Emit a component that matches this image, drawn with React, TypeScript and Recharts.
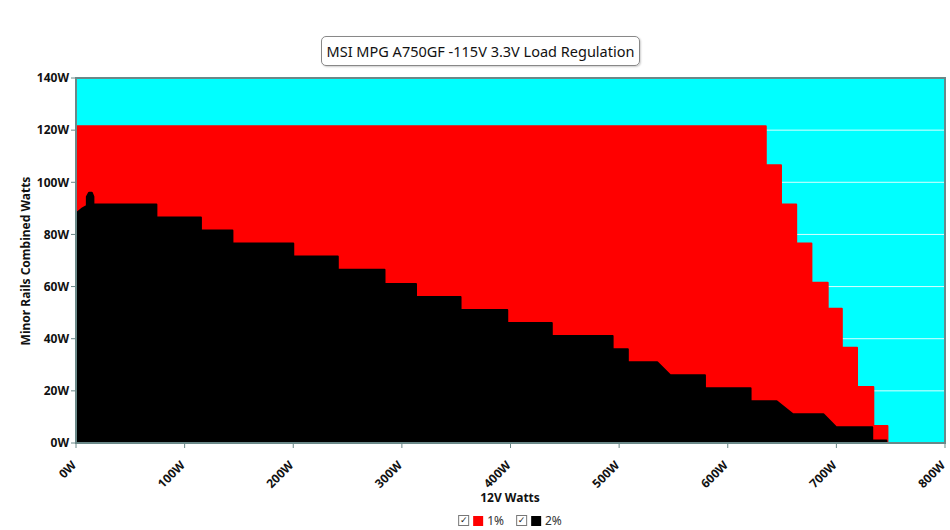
import React from "react";
import {
  ComposedChart,
  Area,
  CartesianGrid,
  XAxis,
  YAxis,
  ReferenceArea,
} from "recharts";

// 1% regulation limit: step edges (12V watts) and minor rail level before each edge
const redX = [0, 635, 649, 663, 677, 692, 705, 719, 734, 747];
const redY = [121.5, 106.5, 91.5, 76.5, 61.5, 51.5, 36.5, 21.5, 6.5, 0];

// 2% regulation limit: outline corners
const blackX = [
  0, 6, 10, 10, 12, 14.5, 16, 16, 74, 74, 115, 115, 144, 144, 200, 200, 241,
  241, 284, 284, 313, 313, 354, 354, 397, 397, 438, 438, 494, 494, 508, 508,
  535, 547, 579, 579, 621, 621, 645, 660, 688, 700, 733, 733, 746, 746,
];
const blackY = [
  88, 90, 91, 94.5, 96, 96, 94.5, 91.5, 91.5, 86.5, 86.5, 81.5, 81.5, 76.5,
  76.5, 71.5, 71.5, 66.5, 66.5, 61, 61, 56, 56, 51, 51, 46, 46, 41, 41, 36, 36,
  31, 31, 26, 26, 21, 21, 16, 16, 11, 11, 6, 6, 1, 1, 0,
];

const xTicks = [0, 100, 200, 300, 400, 500, 600, 700, 800];
const yTicks = [0, 20, 40, 60, 80, 100, 120, 140];

const redData = redX.map((x, i) => ({ x, y: redY[i] }));
const blackData = blackX.map((x, i) => ({ x, y: blackY[i] }));

const font = "'Noto Sans', sans-serif";

function XTick({ x, y, payload }: any) {
  return (
    <g transform={`translate(${x - 2},${y + 13})`}>
      <text
        x={0}
        y={0}
        dy="0.35em"
        textAnchor="end"
        transform="rotate(-45)"
        fontSize={12}
        fontWeight="bold"
        fontFamily={font}
        fill="#111"
      >
        {`${payload.value}W`}
      </text>
    </g>
  );
}

function CheckBox() {
  return (
    <span
      style={{
        display: "inline-block",
        width: 9,
        height: 9,
        border: "1px solid #777",
        fontSize: 9,
        lineHeight: "9px",
        textAlign: "center",
        color: "#222",
        marginRight: 4,
        fontFamily: "DejaVu Sans",
      }}
    >
      ✓
    </span>
  );
}

function LegendItem({ color, label }: { color: string; label: string }) {
  return (
    <span style={{ display: "inline-flex", alignItems: "center", marginRight: 12 }}>
      <CheckBox />
      <span
        style={{
          display: "inline-block",
          width: 10,
          height: 10,
          background: color,
          marginRight: 4,
        }}
      />
      <span style={{ fontSize: 12, color: "#333" }}>{label}</span>
    </span>
  );
}

export default function App() {
  return (
    <div
      style={{
        position: "absolute",
        left: 0,
        top: 0,
        width: 950,
        height: 530,
        background: "#fff",
        fontFamily: font,
      }}
    >
      <div
        style={{
          position: "absolute",
          left: 321,
          top: 36,
          width: 317,
          height: 28,
          border: "1px solid #888",
          borderRadius: 5,
          boxShadow: "1px 1px 2px rgba(0,0,0,0.2)",
          fontSize: 14.5,
          lineHeight: "28px",
          textAlign: "center",
          color: "#111",
        }}
      >
        MSI MPG A750GF -115V 3.3V Load Regulation
      </div>

      <ComposedChart
        width={950}
        height={530}
        margin={{ top: 78, right: 5, bottom: 32, left: 16 }}
      >
        <CartesianGrid
          horizontal
          vertical={false}
          stroke="#d8ffff"
          fill="#00FFFF"
          fillOpacity={1}
        />
        <XAxis
          dataKey="x"
          type="number"
          domain={[0, 800]}
          ticks={xTicks}
          interval={0}
          allowDataOverflow
          height={55}
          stroke="#6a8888"
          tickSize={5}
          tick={<XTick />}
        />
        <YAxis
          type="number"
          domain={[0, 140]}
          ticks={yTicks}
          interval={0}
          width={60}
          stroke="#6a8888"
          tickSize={5}
          tickFormatter={(v) => `${v}W`}
          tick={{ fontSize: 12, fontWeight: "bold", fill: "#111", fontFamily: font }}
        />
        <Area
          data={redData}
          dataKey="y"
          type="stepAfter"
          fill="#FF0000"
          fillOpacity={1}
          stroke="#FF0000"
          strokeWidth={2}
          strokeLinejoin="round"
          isAnimationActive={false}
          dot={false}
          activeDot={false}
        />
        <Area
          data={blackData}
          dataKey="y"
          type="linear"
          fill="#000000"
          fillOpacity={1}
          stroke="#000000"
          strokeWidth={2}
          strokeLinejoin="round"
          isAnimationActive={false}
          dot={false}
          activeDot={false}
        />
        <ReferenceArea
          x1={0}
          x2={800}
          y1={0}
          y2={140}
          fill="none"
          stroke="#6a8888"
          strokeWidth={2}
          ifOverflow="visible"
        />
      </ComposedChart>

      <div
        style={{
          position: "absolute",
          left: 25,
          top: 261,
          transform: "translate(-50%,-50%) rotate(-90deg)",
          whiteSpace: "nowrap",
          fontSize: 12,
          fontWeight: "bold",
          color: "#111",
        }}
      >
        Minor Rails Combined Watts
      </div>
      <div
        style={{
          position: "absolute",
          left: 510,
          top: 489,
          transform: "translateX(-50%)",
          fontSize: 12,
          fontWeight: "bold",
          color: "#111",
        }}
      >
        12V Watts
      </div>
      <div
        style={{
          position: "absolute",
          left: 516,
          top: 512,
          transform: "translateX(-50%)",
          display: "flex",
          whiteSpace: "nowrap",
        }}
      >
        <LegendItem color="#FF0000" label="1%" />
        <LegendItem color="#000000" label="2%" />
      </div>
    </div>
  );
}
